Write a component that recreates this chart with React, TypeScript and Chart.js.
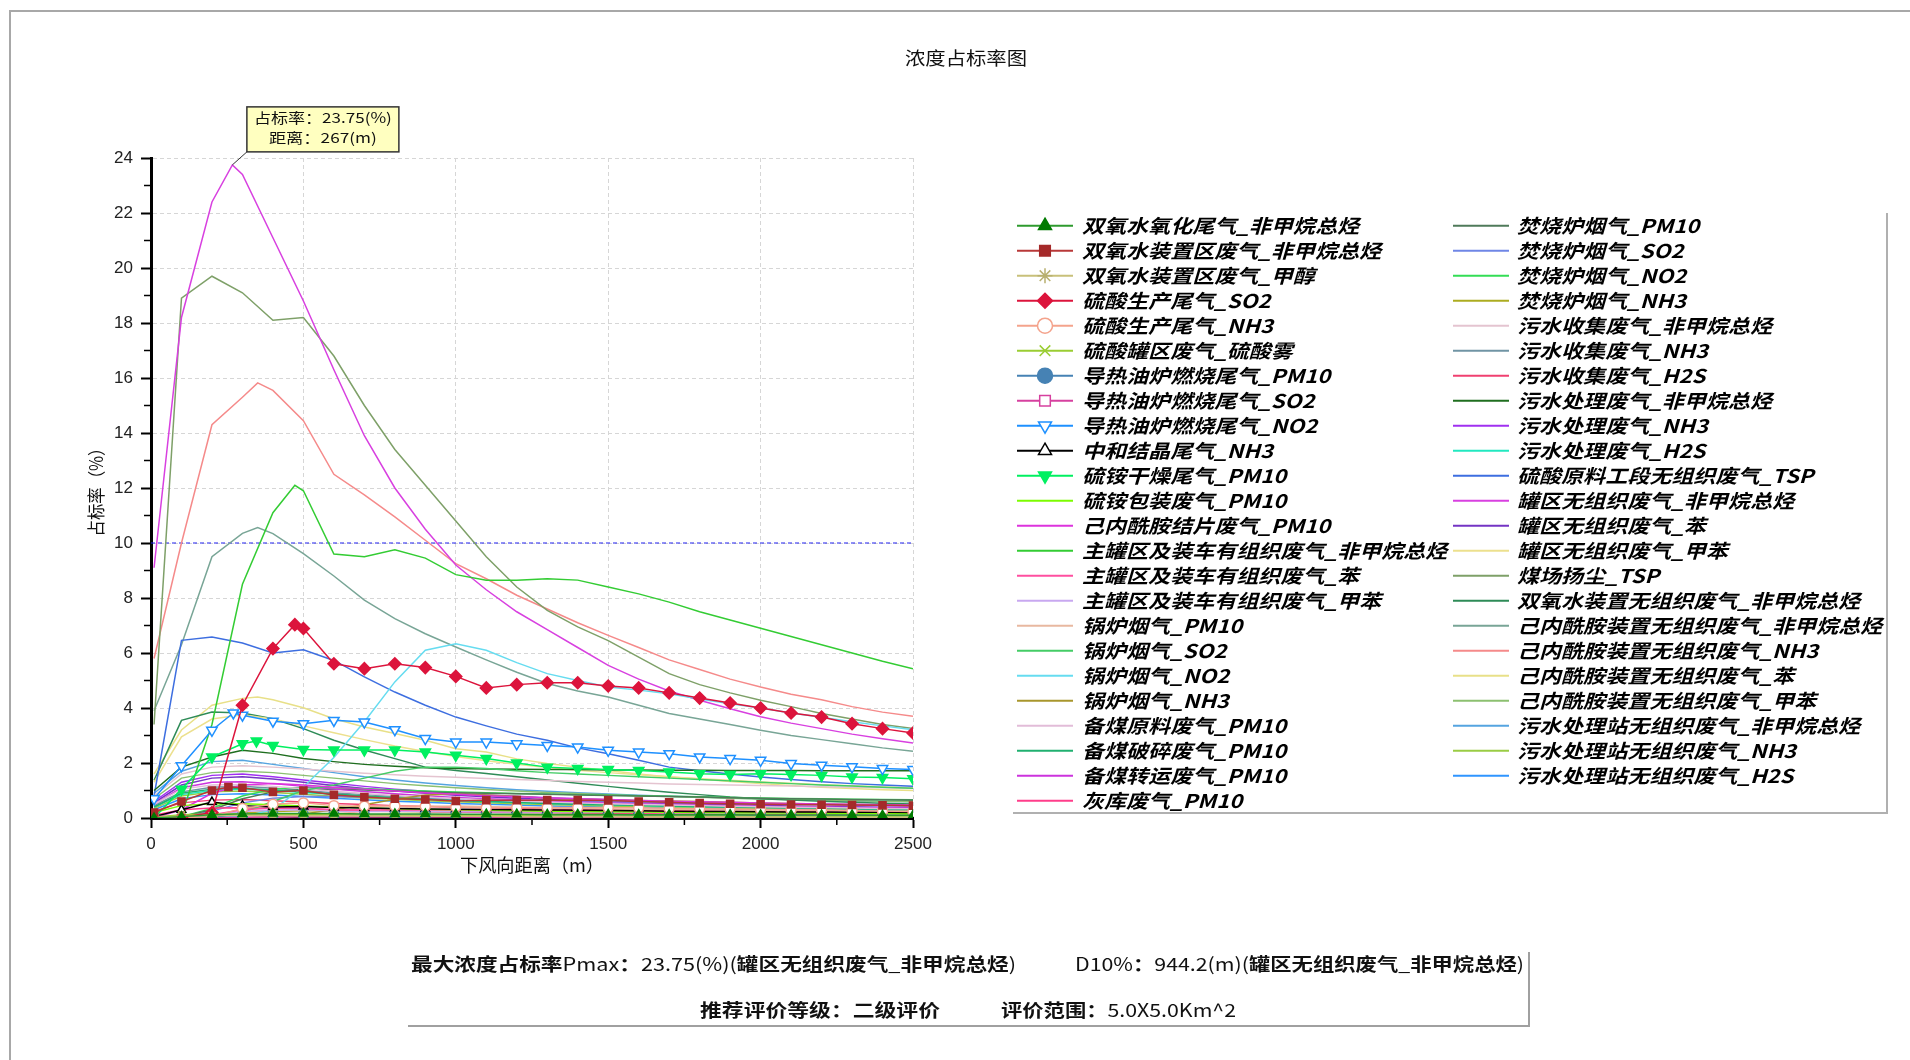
import React, { useEffect, useRef } from 'react';
import { Chart, registerables } from 'chart.js';
import { drawPoint } from 'chart.js/helpers';

Chart.register(...registerables);

const TITLE = '浓度占标率图';
const X_TITLE = '下风向距离（m）';
const Y_TITLE = '占标率（%）';
const X_MIN = 0;
const X_MAX = 2500;
const X_STEP = 500;
const X_MINOR = [250, 750, 1250, 1750, 2250];
const Y_MIN = 0;
const Y_MAX = 24;
const Y_STEP = 2;
const Y_MINOR = [1, 3, 5, 7, 9, 11, 13, 15, 17, 19, 21, 23];
const THRESHOLD = 10;
const PMAX_DIST = 267;
const PMAX_VALUE = 23.75;
const TIP_LINE1 = '占标率：23.75(%)';
const TIP_LINE2 = '距离：267(m)';
const INFO_1A = '最大浓度占标率Pmax：23.75(%)(罐区无组织废气_非甲烷总烃)';
const INFO_1B = 'D10%：944.2(m)(罐区无组织废气_非甲烷总烃)';
const INFO_2A = '推荐评价等级：二级评价';
const INFO_2B = '评价范围：5.0X5.0Km^2';

const DIST = [10, 100, 200, 300, 400, 500, 600, 700, 800, 900, 1000, 1100, 1200, 1300, 1400, 1500, 1600, 1700, 1800, 1900, 2000, 2100, 2200, 2300, 2400, 2500];

const NAMES = [
  '双氧水氧化尾气_非甲烷总烃', '双氧水装置区废气_非甲烷总烃', '双氧水装置区废气_甲醇', '硫酸生产尾气_SO2',
  '硫酸生产尾气_NH3', '硫酸罐区废气_硫酸雾', '导热油炉燃烧尾气_PM10', '导热油炉燃烧尾气_SO2',
  '导热油炉燃烧尾气_NO2', '中和结晶尾气_NH3', '硫铵干燥尾气_PM10', '硫铵包装废气_PM10',
  '己内酰胺结片废气_PM10', '主罐区及装车有组织废气_非甲烷总烃', '主罐区及装车有组织废气_苯', '主罐区及装车有组织废气_甲苯',
  '锅炉烟气_PM10', '锅炉烟气_SO2', '锅炉烟气_NO2', '锅炉烟气_NH3',
  '备煤原料废气_PM10', '备煤破碎废气_PM10', '备煤转运废气_PM10', '灰库废气_PM10',
  '焚烧炉烟气_PM10', '焚烧炉烟气_SO2', '焚烧炉烟气_NO2', '焚烧炉烟气_NH3',
  '污水收集废气_非甲烷总烃', '污水收集废气_NH3', '污水收集废气_H2S', '污水处理废气_非甲烷总烃',
  '污水处理废气_NH3', '污水处理废气_H2S', '硫酸原料工段无组织废气_TSP', '罐区无组织废气_非甲烷总烃',
  '罐区无组织废气_苯', '罐区无组织废气_甲苯', '煤场扬尘_TSP', '双氧水装置无组织废气_非甲烷总烃',
  '己内酰胺装置无组织废气_非甲烷总烃', '己内酰胺装置无组织废气_NH3', '己内酰胺装置无组织废气_苯', '己内酰胺装置无组织废气_甲苯',
  '污水处理站无组织废气_非甲烷总烃', '污水处理站无组织废气_NH3', '污水处理站无组织废气_H2S',
];

const COLORS = [
  '#2e9a2e', '#b83838', '#c8c07a', '#dc143c', '#f4a38c', '#9acd32', '#4682b4', '#d6409f',
  '#1e90ff', '#000000', '#00f060', '#7cfc00', '#dd33dd', '#33cc33', '#ff4fa0', '#c8a8f0',
  '#e8b8a0', '#44cc66', '#66dcf0', '#a8962c', '#e2bcd8', '#20b070', '#cc33dd', '#ff3d8a',
  '#4f7a5a', '#6f86e6', '#33dd55', '#acac20', '#e4c4d0', '#7094a4', '#f04070', '#1f6e1f',
  '#a030f0', '#22e8c0', '#3d6ee0', '#d840e0', '#7434c4', '#ece08e', '#7ea068', '#2e8b57',
  '#78a596', '#f58a8a', '#e8e088', '#8cc070', '#55a4e0', '#9acc44', '#2f95ff',
];

// marker style per series: '' = none
const MARKERS = ['triangle', 'rect', 'star', 'rectRot', 'circle', 'crossRot', 'circle', 'rect', 'triangleDown', 'triangle', 'triangleDown'];
const MARKER_FILLED = [true, true, false, true, false, false, true, false, false, false, true];
const MARKER_COLORS = ['#007a00', '#a52a2a', '#b8b070', '#dc143c', '#f4a38c', '#9acd32', '#4682b4', '#d6409f', '#1e90ff', '#000000', '#00f060'];

const S01 = [0, 0.05, 0.12, 0.15, 0.16, 0.16, 0.16, 0.15, 0.15, 0.15, 0.14, 0.14, 0.14, 0.13, 0.13, 0.13, 0.12, 0.12, 0.12, 0.12, 0.11, 0.11, 0.11, 0.11, 0.1, 0.1];
const S02 = [0.2, 0.6, 1.0, 1.1, 0.95, 1.0, 0.84, 0.76, 0.7, 0.67, 0.62, 0.65, 0.65, 0.65, 0.65, 0.64, 0.6, 0.57, 0.54, 0.52, 0.5, 0.49, 0.48, 0.47, 0.46, 0.45];
const S03 = [0.02, 0.06, 0.09, 0.1, 0.09, 0.08, 0.08, 0.07, 0.07, 0.06, 0.06, 0.06, 0.05, 0.05, 0.05, 0.05, 0.04, 0.04, 0.04, 0.04, 0.04, 0.04, 0.03, 0.03, 0.03, 0.03];
const S04 = [0, 0.02, 0.2, 4.1, 6.16, 6.89, 5.61, 5.43, 5.61, 5.47, 5.15, 4.73, 4.85, 4.92, 4.92, 4.8, 4.73, 4.55, 4.36, 4.18, 4.0, 3.82, 3.67, 3.43, 3.25, 3.09];
const S05 = [0, 0.01, 0.05, 0.35, 0.5, 0.55, 0.45, 0.43, 0.44, 0.43, 0.4, 0.37, 0.38, 0.38, 0.38, 0.37, 0.37, 0.35, 0.34, 0.33, 0.31, 0.3, 0.29, 0.27, 0.25, 0.24];
const S06 = [0.03, 0.12, 0.15, 0.15, 0.14, 0.13, 0.12, 0.11, 0.1, 0.09, 0.09, 0.08, 0.08, 0.07, 0.07, 0.07, 0.06, 0.06, 0.06, 0.06, 0.05, 0.05, 0.05, 0.05, 0.05, 0.04];
const S07 = [0, 0.02, 0.06, 0.1, 0.12, 0.12, 0.12, 0.11, 0.11, 0.11, 0.1, 0.1, 0.1, 0.09, 0.09, 0.09, 0.09, 0.08, 0.08, 0.08, 0.08, 0.08, 0.07, 0.07, 0.07, 0.07];
const S08 = [0, 0, 0.01, 0.03, 0.04, 0.04, 0.04, 0.04, 0.04, 0.04, 0.04, 0.03, 0.03, 0.03, 0.03, 0.03, 0.03, 0.03, 0.03, 0.03, 0.03, 0.03, 0.02, 0.02, 0.02, 0.02];
const S09 = [0.7, 1.9, 3.19, 3.74, 3.52, 3.43, 3.55, 3.49, 3.21, 2.89, 2.76, 2.76, 2.7, 2.64, 2.58, 2.46, 2.4, 2.34, 2.22, 2.16, 2.1, 1.98, 1.92, 1.86, 1.8, 1.76];
const S10 = [0.05, 0.3, 0.58, 0.45, 0.4, 0.42, 0.38, 0.36, 0.35, 0.33, 0.32, 0.31, 0.3, 0.29, 0.28, 0.27, 0.26, 0.25, 0.24, 0.24, 0.23, 0.22, 0.22, 0.21, 0.21, 0.2];
const S11 = [0, 1.05, 2.22, 2.7, 2.64, 2.49, 2.47, 2.47, 2.47, 2.4, 2.28, 2.16, 2.0, 1.85, 1.8, 1.76, 1.73, 1.67, 1.61, 1.58, 1.61, 1.58, 1.55, 1.49, 1.47, 1.43];
const S12 = [0.2, 0.45, 0.52, 0.52, 0.48, 0.44, 0.4, 0.37, 0.34, 0.32, 0.3, 0.28, 0.26, 0.25, 0.24, 0.23, 0.22, 0.21, 0.2, 0.19, 0.18, 0.18, 0.17, 0.16, 0.16, 0.15];
const S13 = [0, 0.3, 0.9, 1.2, 1.25, 1.2, 1.12, 1.05, 0.98, 0.92, 0.86, 0.81, 0.77, 0.73, 0.7, 0.67, 0.64, 0.61, 0.59, 0.57, 0.55, 0.53, 0.51, 0.5, 0.48, 0.47];
const S14 = [0, 0.1, 3.4, 8.5, 11.1, 11.9, 9.6, 9.5, 9.75, 9.45, 8.85, 8.65, 8.65, 8.7, 8.65, 8.4, 8.15, 7.85, 7.5, 7.2, 6.9, 6.6, 6.3, 6.0, 5.7, 5.43];
const S15 = [0, 0.02, 0.12, 0.3, 0.36, 0.36, 0.3, 0.29, 0.3, 0.29, 0.28, 0.27, 0.27, 0.27, 0.27, 0.26, 0.25, 0.24, 0.23, 0.22, 0.21, 0.2, 0.19, 0.18, 0.17, 0.17];
const S16 = [0, 0.02, 0.1, 0.24, 0.29, 0.3, 0.25, 0.24, 0.25, 0.24, 0.23, 0.23, 0.22, 0.22, 0.22, 0.21, 0.21, 0.2, 0.19, 0.18, 0.17, 0.17, 0.16, 0.15, 0.15, 0.14];
const S17 = [0, 0, 0, 0.01, 0.02, 0.08, 0.15, 0.24, 0.34, 0.42, 0.44, 0.42, 0.39, 0.36, 0.35, 0.33, 0.32, 0.31, 0.3, 0.29, 0.28, 0.27, 0.26, 0.25, 0.24, 0.23];
const S18 = [0, 0, 0, 0.2, 0.6, 1.0, 1.2, 1.45, 1.7, 1.85, 1.85, 1.8, 1.72, 1.65, 1.6, 1.55, 1.5, 1.45, 1.4, 1.35, 1.3, 1.25, 1.2, 1.16, 1.12, 1.08];
const S19 = [0, 0, 0, 0.05, 0.3, 1.13, 2.2, 3.5, 4.95, 6.1, 6.34, 6.1, 5.65, 5.25, 5.0, 4.76, 4.65, 4.52, 4.33, 4.15, 4.0, 3.82, 3.66, 3.5, 3.35, 3.21];
const S20 = [0, 0, 0, 0.01, 0.04, 0.15, 0.3, 0.48, 0.68, 0.84, 0.87, 0.84, 0.78, 0.72, 0.69, 0.66, 0.64, 0.62, 0.6, 0.57, 0.55, 0.53, 0.51, 0.49, 0.47, 0.45];
const S21 = [0.5, 1.05, 1.2, 1.22, 1.15, 1.06, 0.97, 0.89, 0.82, 0.76, 0.7, 0.66, 0.62, 0.58, 0.55, 0.52, 0.49, 0.47, 0.45, 0.43, 0.41, 0.39, 0.38, 0.36, 0.35, 0.34];
const S22 = [0.4, 0.9, 1.05, 1.08, 1.02, 0.95, 0.87, 0.8, 0.74, 0.69, 0.64, 0.6, 0.57, 0.53, 0.5, 0.48, 0.46, 0.44, 0.42, 0.4, 0.38, 0.37, 0.36, 0.34, 0.33, 0.32];
const S23 = [0.5, 1.1, 1.3, 1.32, 1.25, 1.15, 1.05, 0.96, 0.88, 0.81, 0.75, 0.7, 0.66, 0.62, 0.58, 0.55, 0.52, 0.5, 0.47, 0.45, 0.43, 0.41, 0.4, 0.38, 0.37, 0.36];
const S24 = [0.1, 0.3, 0.36, 0.37, 0.35, 0.33, 0.3, 0.28, 0.26, 0.24, 0.22, 0.21, 0.2, 0.19, 0.18, 0.17, 0.16, 0.15, 0.15, 0.14, 0.14, 0.13, 0.13, 0.12, 0.12, 0.11];
const S25 = [0, 0.05, 0.3, 0.7, 0.95, 1.05, 1.05, 1.02, 0.98, 0.95, 0.92, 0.9, 0.88, 0.86, 0.84, 0.82, 0.8, 0.78, 0.76, 0.74, 0.72, 0.7, 0.69, 0.67, 0.66, 0.65];
const S26 = [0, 0.04, 0.25, 0.55, 0.72, 0.78, 0.78, 0.76, 0.73, 0.7, 0.68, 0.66, 0.64, 0.62, 0.6, 0.59, 0.57, 0.56, 0.54, 0.53, 0.52, 0.5, 0.49, 0.48, 0.47, 0.46];
const S27 = [0, 0.05, 0.35, 0.8, 1.05, 1.12, 1.1, 1.06, 1.02, 0.98, 0.95, 0.92, 0.89, 0.87, 0.85, 0.83, 0.81, 0.79, 0.77, 0.75, 0.73, 0.71, 0.7, 0.68, 0.67, 0.66];
const S28 = [0, 0.01, 0.08, 0.18, 0.24, 0.26, 0.26, 0.25, 0.24, 0.23, 0.22, 0.22, 0.21, 0.21, 0.2, 0.2, 0.19, 0.19, 0.18, 0.18, 0.17, 0.17, 0.16, 0.16, 0.16, 0.15];
const S29 = [0.8, 1.6, 1.85, 1.9, 1.85, 1.78, 1.7, 1.63, 1.57, 1.52, 1.48, 1.44, 1.4, 1.36, 1.33, 1.3, 1.27, 1.24, 1.22, 1.2, 1.18, 1.16, 1.14, 1.12, 1.1, 1.08];
const S30 = [0.45, 0.95, 1.12, 1.15, 1.08, 1.0, 0.92, 0.85, 0.78, 0.72, 0.67, 0.63, 0.59, 0.55, 0.52, 0.49, 0.47, 0.45, 0.43, 0.41, 0.39, 0.37, 0.36, 0.35, 0.34, 0.33];
const S31 = [0.25, 0.55, 0.65, 0.67, 0.63, 0.58, 0.53, 0.49, 0.45, 0.42, 0.39, 0.37, 0.35, 0.33, 0.31, 0.3, 0.28, 0.27, 0.26, 0.25, 0.24, 0.23, 0.22, 0.21, 0.21, 0.2];
const S32 = [1.0, 1.85, 2.22, 2.46, 2.35, 2.16, 2.05, 1.95, 1.88, 1.83, 1.8, 1.78, 1.77, 1.76, 1.76, 1.75, 1.75, 1.74, 1.74, 1.73, 1.73, 1.73, 1.72, 1.72, 1.72, 1.72];
const S33 = [0.6, 1.3, 1.55, 1.6, 1.5, 1.38, 1.26, 1.15, 1.05, 0.97, 0.9, 0.84, 0.79, 0.74, 0.7, 0.66, 0.63, 0.6, 0.57, 0.55, 0.53, 0.51, 0.49, 0.47, 0.45, 0.44];
const S34 = [0.4, 0.85, 1.0, 1.05, 1.0, 0.93, 0.86, 0.79, 0.73, 0.68, 0.64, 0.6, 0.56, 0.53, 0.5, 0.48, 0.45, 0.43, 0.41, 0.39, 0.38, 0.36, 0.35, 0.34, 0.33, 0.32];
const S35 = [0.8, 6.46, 6.58, 6.36, 6.0, 6.12, 5.73, 5.13, 4.58, 4.1, 3.67, 3.35, 3.05, 2.83, 2.55, 2.34, 2.1, 1.85, 1.72, 1.6, 1.49, 1.4, 1.32, 1.25, 1.2, 1.15];
const S36 = [9.1, 18.2, 22.4, 23.4, 21.1, 18.8, 16.3, 13.9, 12.0, 10.5, 9.2, 8.3, 7.5, 6.85, 6.2, 5.55, 5.05, 4.62, 4.28, 3.97, 3.68, 3.45, 3.25, 3.05, 2.88, 2.73];
const S37 = [0.55, 1.2, 1.45, 1.5, 1.42, 1.3, 1.18, 1.07, 0.98, 0.9, 0.83, 0.77, 0.72, 0.67, 0.63, 0.6, 0.56, 0.53, 0.51, 0.48, 0.46, 0.44, 0.42, 0.41, 0.39, 0.38];
const S38 = [1.3, 2.95, 3.6, 3.75, 3.6, 3.35, 3.1, 2.85, 2.62, 2.42, 2.24, 2.08, 1.95, 1.84, 1.74, 1.65, 1.57, 1.5, 1.43, 1.37, 1.31, 1.26, 1.21, 1.17, 1.13, 1.1];
const S39 = [3.4, 18.9, 19.7, 19.1, 18.1, 18.2, 16.8, 15.0, 13.4, 12.1, 10.8, 9.5, 8.4, 7.55, 6.95, 6.45, 5.85, 5.25, 4.85, 4.55, 4.28, 4.05, 3.8, 3.6, 3.4, 3.25];
const S40 = [1.37, 3.55, 3.85, 3.82, 3.61, 3.25, 2.83, 2.47, 2.16, 1.85, 1.73, 1.62, 1.5, 1.38, 1.26, 1.15, 1.04, 0.94, 0.85, 0.76, 0.7, 0.65, 0.61, 0.57, 0.54, 0.51];
const S41 = [3.9, 6.3, 9.5, 10.35, 10.34, 9.61, 8.8, 7.92, 7.25, 6.7, 6.22, 5.75, 5.3, 4.89, 4.62, 4.4, 4.1, 3.8, 3.6, 3.4, 3.19, 3.0, 2.85, 2.7, 2.55, 2.43];
const S42 = [5.8, 10.0, 14.3, 15.3, 15.55, 14.45, 12.5, 11.75, 10.95, 10.1, 9.25, 8.7, 8.1, 7.6, 7.1, 6.64, 6.2, 5.75, 5.4, 5.05, 4.76, 4.5, 4.3, 4.05, 3.85, 3.7];
const S43 = [1.6, 3.2, 4.1, 4.35, 4.3, 4.01, 3.61, 3.31, 3.07, 2.83, 2.52, 2.4, 2.15, 1.98, 1.85, 1.73, 1.6, 1.49, 1.42, 1.33, 1.25, 1.18, 1.12, 1.07, 1.03, 1.0];
const S44 = [0.7, 1.45, 1.65, 1.7, 1.65, 1.55, 1.45, 1.35, 1.25, 1.17, 1.1, 1.04, 0.98, 0.93, 0.89, 0.85, 0.81, 0.78, 0.75, 0.72, 0.69, 0.67, 0.65, 0.63, 0.61, 0.59];
const S45 = [0.9, 1.7, 2.05, 2.1, 1.95, 1.8, 1.65, 1.5, 1.38, 1.27, 1.18, 1.1, 1.03, 0.97, 0.92, 0.87, 0.83, 0.79, 0.76, 0.73, 0.7, 0.67, 0.65, 0.63, 0.61, 0.59];
const S46 = [0.35, 0.8, 0.95, 0.98, 0.93, 0.86, 0.79, 0.73, 0.68, 0.63, 0.59, 0.55, 0.52, 0.49, 0.46, 0.44, 0.42, 0.4, 0.38, 0.36, 0.35, 0.34, 0.32, 0.31, 0.3, 0.29];
const S47 = [0.3, 0.7, 0.85, 0.88, 0.84, 0.78, 0.72, 0.66, 0.61, 0.57, 0.53, 0.5, 0.47, 0.44, 0.42, 0.4, 0.38, 0.36, 0.34, 0.33, 0.32, 0.3, 0.29, 0.28, 0.27, 0.26];

const VALUES = [S01, S02, S03, S04, S05, S06, S07, S08, S09, S10, S11, S12, S13, S14, S15, S16, S17, S18, S19, S20, S21, S22, S23, S24,
  S25, S26, S27, S28, S29, S30, S31, S32, S33, S34, S35, S36, S37, S38, S39, S40, S41, S42, S43, S44, S45, S46, S47];

// extra maximum points: [series number, distance, value]
const PEAKS = [
  [36, 267, 23.75], [42, 350, 15.82], [14, 472, 12.1], [41, 350, 10.56], [4, 472, 7.03],
  [9, 270, 3.82], [43, 350, 4.4], [11, 346, 2.8], [2, 254, 1.13],
];

const CJK_RE = /[\u2E80-\u9FFF\u3000-\u303F\uFF00-\uFFEF]/;

function drawFit(ctx, text, x, y, o) {
  const fam = o.family || '"Noto Sans CJK SC", sans-serif';
  const runs = [];
  let cur = '';
  let curC = null;
  for (const ch of text) {
    const c = CJK_RE.test(ch);
    if (curC === null || c === curC) { cur += ch; curC = c; }
    else { runs.push([cur, curC]); cur = ch; curC = c; }
  }
  if (cur) runs.push([cur, curC]);
  const fontFor = (c) => `${o.italic ? 'italic ' : ''}${(o.bold === 'all' || (o.bold === 'cjk' && c)) ? 'bold ' : ''}${o.size}px ${fam}`;
  let W = 0;
  const ws = runs.map(([t, c]) => { ctx.font = fontFor(c); const w = ctx.measureText(t).width; W += w; return w; });
  const s = o.width ? o.width / W : (o.scale || 1);
  const total = W * s;
  const x0 = o.align === 'center' ? x - total / 2 : o.align === 'right' ? x - total : x;
  ctx.save();
  ctx.translate(x0, y);
  ctx.scale(s, 1);
  ctx.fillStyle = o.color || '#000';
  ctx.textBaseline = 'middle';
  ctx.textAlign = 'left';
  let off = 0;
  runs.forEach(([t, c], k) => { ctx.font = fontFor(c); ctx.fillText(t, off, 0); off += ws[k]; });
  ctx.restore();
}

function markerOpts(i, radius) {
  const m = MARKERS[i];
  return { pointStyle: m === 'triangleDown' ? 'triangle' : m, rotation: m === 'triangleDown' ? 180 : 0, radius, borderWidth: 1.5 };
}

const extrasPlugin = {
  id: 'extras',
  afterDraw(chart) {
    const ctx = chart.ctx;
    const xs = chart.scales.x;
    const ys = chart.scales.y;
    const area = chart.chartArea;
    ctx.save();
    // page frame
    ctx.strokeStyle = '#a8a8a8';
    ctx.lineWidth = 2;
    ctx.beginPath();
    ctx.moveTo(10, 1060); ctx.lineTo(10, 11); ctx.lineTo(1910, 11);
    ctx.stroke();

    // minor ticks
    ctx.strokeStyle = '#000';
    ctx.lineWidth = 1.5;
    ctx.beginPath();
    Y_MINOR.forEach((v) => { const p = ys.getPixelForValue(v); ctx.moveTo(area.left - 7, p); ctx.lineTo(area.left, p); });
    X_MINOR.forEach((v) => { const p = xs.getPixelForValue(v); ctx.moveTo(p, area.bottom); ctx.lineTo(p, area.bottom + 7); });
    ctx.stroke();

    // title & axis titles
    drawFit(ctx, TITLE, 966, 58, { size: 18, width: 122, align: 'center', color: '#111' });
    drawFit(ctx, X_TITLE, (area.left + area.right) / 2, 865, { size: 18, width: 144, align: 'center', color: '#111' });
    ctx.save();
    ctx.translate(96, (area.top + area.bottom) / 2);
    ctx.rotate(-Math.PI / 2);
    drawFit(ctx, Y_TITLE, 0, 0, { size: 18, width: 97, align: 'center', color: '#111' });
    ctx.restore();

    // max tooltip
    const px = xs.getPixelForValue(PMAX_DIST);
    const py = ys.getPixelForValue(PMAX_VALUE);
    const bx = px + 14.5;
    const by = py - 58;
    const bw = 152;
    const bh = 45;
    ctx.strokeStyle = '#333';
    ctx.lineWidth = 1;
    ctx.beginPath(); ctx.moveTo(px, py); ctx.lineTo(bx, by + bh); ctx.stroke();
    ctx.fillStyle = '#ffffc0';
    ctx.fillRect(bx, by, bw, bh);
    ctx.lineWidth = 1.5;
    ctx.strokeRect(bx, by, bw, bh);
    drawFit(ctx, TIP_LINE1, bx + bw / 2, by + 11, { size: 14, width: 138, align: 'center', color: '#111' });
    drawFit(ctx, TIP_LINE2, bx + bw / 2, by + 31, { size: 14, width: 108, align: 'center', color: '#111' });

    // legend
    const cols = [{ l0: 1017, l1: 1073, t: 1082 }, { l0: 1453, l1: 1509, t: 1517 }];
    NAMES.forEach((name, i) => {
      const col = cols[i < 24 ? 0 : 1];
      const row = i < 24 ? i : i - 24;
      const y = 225.7 + row * 25;
      ctx.strokeStyle = COLORS[i];
      ctx.lineWidth = 2;
      ctx.beginPath(); ctx.moveTo(col.l0, y); ctx.lineTo(col.l1, y); ctx.stroke();
      if (MARKERS[i]) {
        ctx.fillStyle = MARKER_FILLED[i] ? MARKER_COLORS[i] : '#ffffff';
        ctx.strokeStyle = MARKER_COLORS[i];
        ctx.lineWidth = 1.5;
        drawPoint(ctx, markerOpts(i, 7.5), (col.l0 + col.l1) / 2, y);
      }
      drawFit(ctx, name, col.t, y, { size: 19, scale: 1.16, italic: true, bold: 'all', color: '#000' });
    });
    ctx.strokeStyle = '#b0b0b0';
    ctx.lineWidth = 2;
    ctx.beginPath(); ctx.moveTo(1887, 213); ctx.lineTo(1887, 813); ctx.lineTo(1013, 813); ctx.stroke();

    // info box
    drawFit(ctx, INFO_1A, 411, 964, { size: 18, width: 605, bold: 'cjk', color: '#111' });
    drawFit(ctx, INFO_1B, 1075, 964, { size: 18, width: 449, bold: 'cjk', color: '#111' });
    drawFit(ctx, INFO_2A, 700, 1010, { size: 18, width: 240, bold: 'cjk', color: '#111' });
    drawFit(ctx, INFO_2B, 1001, 1010, { size: 18, width: 235, bold: 'cjk', color: '#111' });
    ctx.strokeStyle = '#a0a0a0';
    ctx.lineWidth = 2;
    ctx.beginPath(); ctx.moveTo(1529, 952); ctx.lineTo(1529, 1026); ctx.lineTo(408, 1026); ctx.stroke();
    ctx.restore();
  },
};

function buildDatasets() {
  const sets = NAMES.map((name, i) => {
    const pts = DIST.map((x, j) => ({ x, y: VALUES[i][j] }));
    PEAKS.filter((p) => p[0] === i + 1).forEach((p) => pts.push({ x: p[1], y: p[2] }));
    pts.sort((a, b) => a.x - b.x);
    const m = MARKERS[i];
    return {
      label: name,
      data: pts,
      borderColor: COLORS[i],
      backgroundColor: COLORS[i],
      borderWidth: 1.5,
      tension: 0,
      pointStyle: m ? (m === 'triangleDown' ? 'triangle' : m) : 'circle',
      pointRotation: m === 'triangleDown' ? 180 : 0,
      pointRadius: m ? (m === 'rectRot' || m === 'triangleDown' ? 6 : 5) : 0,
      pointBackgroundColor: m ? (MARKER_FILLED[i] ? MARKER_COLORS[i] : '#ffffff') : COLORS[i],
      pointBorderColor: m ? MARKER_COLORS[i] : COLORS[i],
      pointBorderWidth: 1.5,
    };
  });
  sets.push({
    label: '10%',
    data: [{ x: X_MIN, y: THRESHOLD }, { x: X_MAX, y: THRESHOLD }],
    borderColor: '#2020ee',
    backgroundColor: '#2020ee',
    borderWidth: 1.2,
    borderDash: [4, 3],
    tension: 0,
    pointRadius: 0,
  });
  return sets;
}

export default function App() {
  const ref = useRef(null);
  useEffect(() => {
    document.body.style.margin = '0';
    const chart = new Chart(ref.current, {
      type: 'line',
      data: { datasets: buildDatasets() },
      options: {
        responsive: false,
        animation: false,
        devicePixelRatio: 1,
        layout: { padding: { left: 0, top: 158, right: 997, bottom: 0 } },
        plugins: { legend: { display: false }, title: { display: false }, tooltip: { enabled: false } },
        scales: {
          x: {
            type: 'linear',
            min: X_MIN,
            max: X_MAX,
            afterFit: (s) => { s.height = 242; },
            ticks: { stepSize: X_STEP, autoSkip: false, maxRotation: 0, padding: 6, color: '#222', font: { family: '"Liberation Sans", Arial, sans-serif', size: 17 }, callback: (v) => String(v) },
            grid: { color: '#d6d6d6', lineWidth: 1, drawTicks: true, tickLength: 10, tickColor: '#000', tickWidth: 2 },
            border: { display: true, color: '#000', width: 3, dash: [4, 3] },
          },
          y: {
            type: 'linear',
            min: Y_MIN,
            max: Y_MAX,
            afterFit: (s) => { s.width = 151; },
            ticks: { stepSize: Y_STEP, autoSkip: false, padding: 8, color: '#222', font: { family: '"Liberation Sans", Arial, sans-serif', size: 17 }, callback: (v) => String(v) },
            grid: { color: '#d6d6d6', lineWidth: 1, drawTicks: true, tickLength: 10, tickColor: '#000', tickWidth: 2 },
            border: { display: true, color: '#000', width: 3, dash: [4, 3] },
          },
        },
      },
      plugins: [extrasPlugin],
    });
    return () => chart.destroy();
  }, []);
  return (
    <div style={{ position: 'fixed', left: 0, top: 0, width: 1910, height: 1060, background: '#ffffff' }}>
      <canvas ref={ref} width={1910} height={1060} style={{ display: 'block', width: 1910, height: 1060 }} />
    </div>
  );
}
